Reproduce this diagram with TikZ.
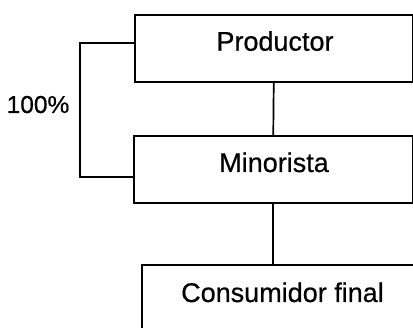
\documentclass[tikz,border=0pt]{standalone}
\usepackage{fontspec}
\setmainfont{Liberation Sans}
\newfontfamily\heavyarial[FakeBold=0.6]{Liberation Sans}
\begin{document}
\begin{tikzpicture}[x=1pt,y=-1pt,
  box/.style={draw=black,line width=1.7pt,inner sep=0pt,outer sep=0pt,anchor=north west,minimum width=#1,minimum height=67pt},
  lbl/.style={anchor=base,inner sep=0pt,font=\heavyarial\fontsize{27}{30}\selectfont},
  conn/.style={draw=black,line width=1.7pt}]
\useasboundingbox (0,0) rectangle (413,328);
\clip (0,0) rectangle (413,328);
\node[box=277.5pt] (prod) at (135,15) {};
\node[box=278.5pt] (mino) at (134,136) {};
\node[box=272pt,minimum height=80pt] (cons) at (142,265) {};
\node[lbl] (tprod) at (275,50.7) {Productor};
\node[lbl] (tmino) at (274,172) {Minorista};
\node[lbl] (tcons) at (282.5,302) {Consumidor final};
\node[lbl,font=\heavyarial\fontsize{24.5}{28}\selectfont] (pct) at (38,113) {100\%};
\coordinate (b1) at (80,43);
\coordinate (b2) at (80,177);
\draw[conn] (prod.south) -- (mino.north);
\draw[conn] (mino.south) -- (mino.south |- cons.north);
\draw[conn] (b1 -| prod.west) -- (b1) -- (b2) -- (b2 -| mino.west);
\end{tikzpicture}
\end{document}
